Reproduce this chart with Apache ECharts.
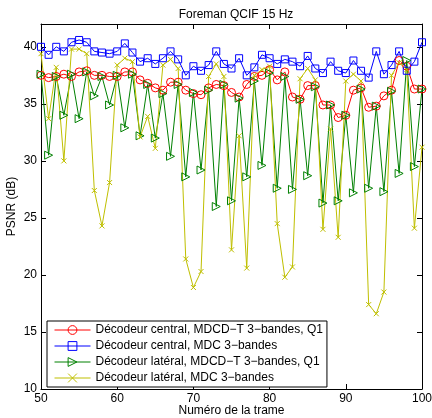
<!DOCTYPE html>
<html>
<head>
<meta charset="utf-8">
<script src="https://cdn.jsdelivr.net/npm/echarts@6/dist/echarts.min.js"></script>
<style>
  html, body { margin: 0; padding: 0; background: #fff; }
  #chart { width: 432px; height: 418px; }
</style>
</head>
<body>
<div id="chart"></div>
<script>
var frames = [50, 51, 52, 53, 54, 55, 56, 57, 58, 59, 60, 61, 62, 63, 64, 65, 66, 67, 68, 69,
    70, 71, 72, 73, 74, 75, 76, 77, 78, 79, 80, 81, 82, 83, 84, 85, 86, 87, 88, 89,
    90, 91, 92, 93, 94, 95, 96, 97, 98, 99, 100];

// Décodeur central, MDCD-T 3-bandes, Q1
var centralMdcdt = [37.5, 37.3, 37.4, 37.6, 37.4, 37.8, 37.9, 37.5, 37.5, 37.4,
    37.4, 37.8, 37.8, 37.1, 36.8, 36.4, 36.2, 36.9, 36.9, 36.2,
    35.9, 35.8, 36.4, 36.7, 36.6, 36.0, 35.6, 36.7, 37.4, 37.5,
    38.0, 37.1, 37.8, 35.6, 35.4, 36.6, 36.6, 34.9, 34.9, 33.8,
    34.0, 36.2, 36.4, 34.7, 34.8, 35.7, 36.2, 38.8, 38.3, 36.3, 36.3];

// Décodeur central, MDC 3-bandes
var centralMdc = [40.0, 39.3, 40.0, 39.6, 40.4, 40.6, 40.4, 39.6, 39.5, 39.4,
    39.6, 40.3, 39.5, 38.7, 39.0, 38.5, 39.0, 39.6, 38.9, 37.5,
    38.3, 37.9, 38.4, 39.6, 38.5, 38.1, 39.0, 37.5, 38.2, 39.3,
    39.0, 38.5, 38.9, 38.7, 38.3, 39.2, 38.1, 37.7, 38.7, 37.9,
    37.7, 38.8, 37.9, 37.3, 39.6, 37.6, 38.4, 39.6, 37.9, 38.7, 40.4];

// Décodeur latéral, MDCD-T 3-bandes, Q1
var lateralMdcdt = [37.6, 30.5, 37.4, 34.0, 37.6, 33.7, 37.8, 35.7, 37.4, 34.9,
    37.5, 32.9, 37.6, 32.2, 36.7, 32.0, 35.9, 30.4, 36.7, 28.6,
    36.0, 29.2, 36.2, 26.0, 36.7, 26.5, 35.5, 28.6, 37.0, 29.6,
    37.7, 27.6, 37.4, 27.5, 35.4, 28.7, 36.5, 26.3, 34.9, 26.5,
    34.0, 27.2, 36.3, 27.6, 34.8, 27.3, 36.1, 28.9, 38.8, 29.5, 36.3];

// Décodeur latéral, MDC 3-bandes
var lateralMdc = [39.4, 33.7, 38.2, 30.0, 39.8, 39.8, 39.4, 27.4, 24.3, 28.1,
    38.4, 39.0, 38.7, 32.1, 33.9, 31.1, 38.4, 38.9, 38.1, 21.4,
    18.9, 20.3, 37.4, 38.5, 37.4, 22.2, 32.2, 20.6, 37.5, 38.0,
    38.3, 24.5, 19.8, 20.7, 37.2, 38.1, 37.1, 24.0, 32.8, 23.3,
    37.0, 37.6, 37.0, 17.4, 16.6, 18.5, 37.5, 38.6, 38.0, 24.1, 31.2];

var seriesNames = [
    'Décodeur central, MDCD−T 3−bandes, Q1',
    'Décodeur central, MDC 3−bandes',
    'Décodeur latéral, MDCD−T 3−bandes, Q1',
    'Décodeur latéral, MDC 3−bandes'
];
var yTicks = [10, 15, 20, 25, 30, 35, 40];

var font = '"Liberation Sans", Arial, Helvetica, sans-serif';

function pairs(values) {
    return frames.map(function (f, i) { return [f, values[i]]; });
}

function makeSeries(name, values, color, symbol, size, rotate) {
    return {
        name: name,
        type: 'line',
        data: pairs(values),
        symbol: symbol,
        symbolSize: size,
        symbolRotate: rotate || 0,
        color: color,
        lineStyle: { color: color, width: 1 },
        itemStyle: { color: 'transparent', borderColor: color, borderWidth: 1 },
        emphasis: { disabled: true },
        animation: false,
        z: 2
    };
}

var axisCommon = {
    axisLine: { lineStyle: { color: '#000', width: 1 } },
    axisTick: { inside: true, length: 5, lineStyle: { color: '#000' } },
    splitLine: { show: false }
};

var mychart = echarts.init(document.getElementById('chart'));
var option = {
    backgroundColor: '#fff',
    animation: false,
    textStyle: { fontFamily: font },
    title: {
        text: 'Foreman QCIF 15 Hz',
        left: 231,
        textAlign: 'center',
        top: 4,
        textStyle: { fontFamily: font, fontSize: 12, fontWeight: 'normal', color: '#000' }
    },
    grid: { left: 41, right: 10, top: 24, bottom: 29, outerBoundsMode: 'none' },
    legend: {
        orient: 'vertical',
        left: 47,
        top: 321,
        itemWidth: 36,
        itemHeight: 11,
        itemGap: 4,
        padding: [3, 4, 3, 7],
        backgroundColor: '#fff',
        borderColor: '#000',
        borderWidth: 1,
        borderRadius: 0,
        lineStyle: { width: 1 },
        itemStyle: { borderWidth: 1 },
        textStyle: { fontFamily: font, fontSize: 12, color: '#000' },
        data: seriesNames
    },
    xAxis: [
        Object.assign({}, axisCommon, {
            type: 'value', position: 'bottom', min: 50, max: 100, interval: 10,
            name: 'Numéro de la trame', nameLocation: 'middle', nameGap: 16,
            nameMoveOverlap: false,
            nameTextStyle: { fontFamily: font, fontSize: 12, color: '#000' },
            axisLabel: { margin: 4, fontFamily: font, fontSize: 12, color: '#000' }
        }),
        Object.assign({}, axisCommon, {
            type: 'value', position: 'top', min: 50, max: 100, interval: 10,
            axisLabel: { show: false }
        })
    ],
    yAxis: [
        Object.assign({}, axisCommon, {
            type: 'value', position: 'left', min: 10, max: 42, interval: 5,
            name: 'PSNR (dB)', nameLocation: 'middle', nameGap: 23,
            nameMoveOverlap: false,
            nameTextStyle: { fontFamily: font, fontSize: 12, color: '#000' },
            axisTick: { inside: true, length: 5, lineStyle: { color: '#000' }, customValues: yTicks },
            axisLabel: { margin: 4, fontFamily: font, fontSize: 12, color: '#000', customValues: yTicks }
        }),
        Object.assign({}, axisCommon, {
            type: 'value', position: 'right', min: 10, max: 42, interval: 5,
            axisTick: { inside: true, length: 5, lineStyle: { color: '#000' }, customValues: yTicks },
            axisLabel: { show: false }
        })
    ],
    series: [
        makeSeries(seriesNames[0], centralMdcdt, '#ff0000', 'circle', 8),
        makeSeries(seriesNames[1], centralMdc, '#0000ff', 'rect', 7),
        makeSeries(seriesNames[2], lateralMdcdt, '#008000', 'triangle', 8, -90),
        makeSeries(seriesNames[3], lateralMdc, '#bfbf00', 'path://M0,0L10,10M10,0L0,10', 5)
    ]
};
mychart.setOption(option);
</script>
</body>
</html>
